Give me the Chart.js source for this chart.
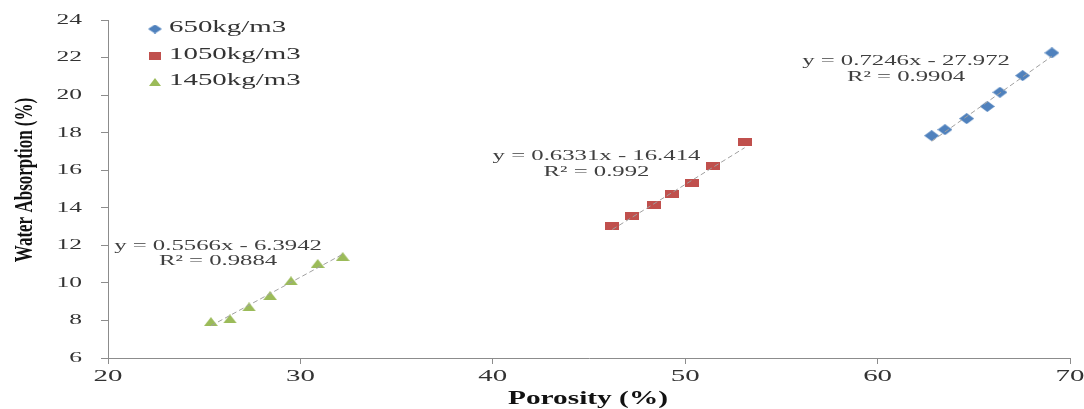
<!DOCTYPE html>
<html>
<head>
<meta charset="utf-8">
<title>Water Absorption vs Porosity</title>
<script src="https://cdn.jsdelivr.net/npm/chart.js@4.4.1/dist/chart.umd.min.js"></script>
<style>
  html, body { margin: 0; padding: 0; background: #ffffff; }
  #wrap { width: 1084px; height: 409px; }
</style>
</head>
<body>
<div id="wrap"><canvas id="chart" width="1084" height="409"></canvas></div>
<script>
// Series names (concrete densities)
const seriesNames = ['650kg/m3', '1050kg/m3', '1450kg/m3'];

// Porosity (%) and water absorption (%) for each density
const porosity650 = [62.81, 63.50, 64.63, 65.70, 66.36, 67.54, 69.06];
const absorption650 = [17.84, 18.16, 18.75, 19.40, 20.15, 21.04, 22.25];

const porosity1050 = [46.21, 47.25, 48.39, 49.33, 50.37, 51.43, 53.09];
const absorption1050 = [13.04, 13.54, 14.14, 14.73, 15.33, 16.22, 17.48];

const porosity1450 = [25.35, 26.34, 27.33, 28.42, 29.51, 30.90, 32.20];
const absorption1450 = [7.94, 8.08, 8.72, 9.32, 10.11, 11.03, 11.40];

// Linear trendlines: y = slope * x + intercept
const trendSlopes = [0.7246, 0.6331, 0.5566];
const trendIntercepts = [-27.972, -16.414, -6.3942];
const trendR2 = ['0.9904', '0.992', '0.9884'];

// Where each equation block is anchored (data coordinates of its first line)
const eqAnchorX = [61.48, 45.39, 25.72];
const eqAnchorY = [21.80, 16.74, 11.97];

// Axis ticks
const xTicks = [20, 30, 40, 50, 60, 70];
const yTicks = [6, 8, 10, 12, 14, 16, 18, 20, 22, 24];

const xTitle = 'Porosity (%)';
const yTitle = 'Water Absorption (%)';

const colors = ['#4f81bd', '#c0504d', '#9bbb59'];
const TEXT_STRETCH = 1.7;
const SERIF = '"Liberation Serif", "Times New Roman", serif';

// Flattened marker glyphs
function makeMarker(kind, color, w, h) {
  const c = document.createElement('canvas');
  c.width = w; c.height = h;
  const g = c.getContext('2d');
  g.fillStyle = color;
  g.beginPath();
  if (kind === 'diamond') {
    g.moveTo(w / 2, 0); g.lineTo(w, h / 2); g.lineTo(w / 2, h); g.lineTo(0, h / 2);
  } else if (kind === 'rect') {
    g.rect(0, 0, w, h);
  } else {
    g.moveTo(w / 2, 0); g.lineTo(w, h); g.lineTo(0, h);
  }
  g.closePath();
  g.fill();
  return c;
}
const markerKinds = ['diamond', 'rect', 'triangle'];
const markerSizes = [[15, 11], [14, 8], [14, 9]];
const legendSizes = [[14, 9], [12, 8], [12, 8]];
const markers = markerKinds.map((k, i) => makeMarker(k, colors[i], markerSizes[i][0], markerSizes[i][1]));
const legendMarkers = markerKinds.map((k, i) => makeMarker(k, colors[i], legendSizes[i][0], legendSizes[i][1]));

const xs = [porosity650, porosity1050, porosity1450];
const ys = [absorption650, absorption1050, absorption1450];

const pointSets = xs.map((arr, i) => ({
  label: seriesNames[i],
  data: arr.map((x, j) => ({ x: x, y: ys[i][j] })),
  pointStyle: markers[i],
  pointRadius: 7,
  showLine: false,
  order: 1
}));

const trendSets = xs.map((arr, i) => {
  const x0 = Math.min(...arr), x1 = Math.max(...arr);
  return {
    label: 'trend ' + seriesNames[i],
    data: [x0, x1].map(x => ({ x: x, y: trendSlopes[i] * x + trendIntercepts[i] })),
    showLine: true,
    borderColor: '#a0a0a0',
    borderWidth: 1,
    borderDash: [5, 3],
    pointRadius: 0,
    order: 0
  };
});

function stretchedText(ctx, text, x, y, align, sx) {
  ctx.save();
  ctx.translate(x, y);
  ctx.scale(sx, 1);
  ctx.textAlign = align;
  ctx.textBaseline = 'middle';
  ctx.fillText(text, 0, 0);
  ctx.restore();
}

const textLayer = {
  id: 'textLayer',
  afterDraw(chart) {
    const ctx = chart.ctx;
    const xs_ = chart.scales.x, ys_ = chart.scales.y;

    // tick labels
    ctx.fillStyle = '#333333';
    ctx.font = '15px ' + SERIF;
    yTicks.forEach(v => stretchedText(ctx, String(v), 82, ys_.getPixelForValue(v), 'right', TEXT_STRETCH));
    ctx.font = '17px ' + SERIF;
    xTicks.forEach(v => stretchedText(ctx, String(v), xs_.getPixelForValue(v), 377, 'center', TEXT_STRETCH));

    // axis titles
    ctx.fillStyle = '#111111';
    ctx.font = 'bold 18px ' + SERIF;
    stretchedText(ctx, xTitle, (chart.chartArea.left + chart.chartArea.right) / 2 - 1, 399, 'center', 1.63);
    ctx.save();
    ctx.translate(25, 180);
    ctx.rotate(-Math.PI / 2);
    ctx.scale(1, 1.5);
    ctx.font = 'bold 17px ' + SERIF;
    ctx.textAlign = 'center';
    ctx.textBaseline = 'middle';
    ctx.fillText(yTitle, 0, 0);
    ctx.restore();

    // legend
    const rows = [28, 55, 81];
    ctx.fillStyle = '#333333';
    ctx.font = '17px ' + SERIF;
    seriesNames.forEach((name, i) => {
      const m = legendMarkers[i];
      ctx.drawImage(m, 155 - m.width / 2, rows[i] + 1 - m.height / 2);
      stretchedText(ctx, name, 169, rows[i], 'left', TEXT_STRETCH);
    });

    // trendline equations
    ctx.fillStyle = '#404040';
    ctx.font = '15px ' + SERIF;
    trendSlopes.forEach((s, i) => {
      const cx = xs_.getPixelForValue(eqAnchorX[i]);
      const cy = ys_.getPixelForValue(eqAnchorY[i]);
      const eq = 'y = ' + s + 'x - ' + Math.abs(trendIntercepts[i]);
      stretchedText(ctx, eq, cx, cy, 'center', 1.65);
      stretchedText(ctx, 'R\u00B2 = ' + trendR2[i], cx, cy + 15.5, 'center', 1.65);
    });
  }
};

const axisColor = '#8c8c8c';

new Chart(document.getElementById('chart'), {
  type: 'scatter',
  data: { datasets: [...trendSets, ...pointSets] },
  options: {
    responsive: false,
    animation: false,
    events: [],
    layout: { padding: { top: 20, right: 14, left: 0, bottom: 0 } },
    plugins: { legend: { display: false }, tooltip: { enabled: false } },
    scales: {
      x: {
        type: 'linear',
        min: 20, max: 70,
        afterBuildTicks: s => { s.ticks = xTicks.map(v => ({ value: v })); },
        ticks: { display: false },
        grid: { drawOnChartArea: false, drawTicks: true, tickLength: 6, color: axisColor },
        border: { display: true, color: axisColor },
        afterFit: s => { s.height = 51; }
      },
      y: {
        type: 'linear',
        min: 6, max: 24,
        afterBuildTicks: s => { s.ticks = yTicks.map(v => ({ value: v })); },
        ticks: { display: false },
        grid: { drawOnChartArea: false, drawTicks: true, tickLength: 7, color: axisColor },
        border: { display: true, color: axisColor },
        afterFit: s => { s.width = 108; }
      }
    }
  },
  plugins: [textLayer]
});
</script>
</body>
</html>
